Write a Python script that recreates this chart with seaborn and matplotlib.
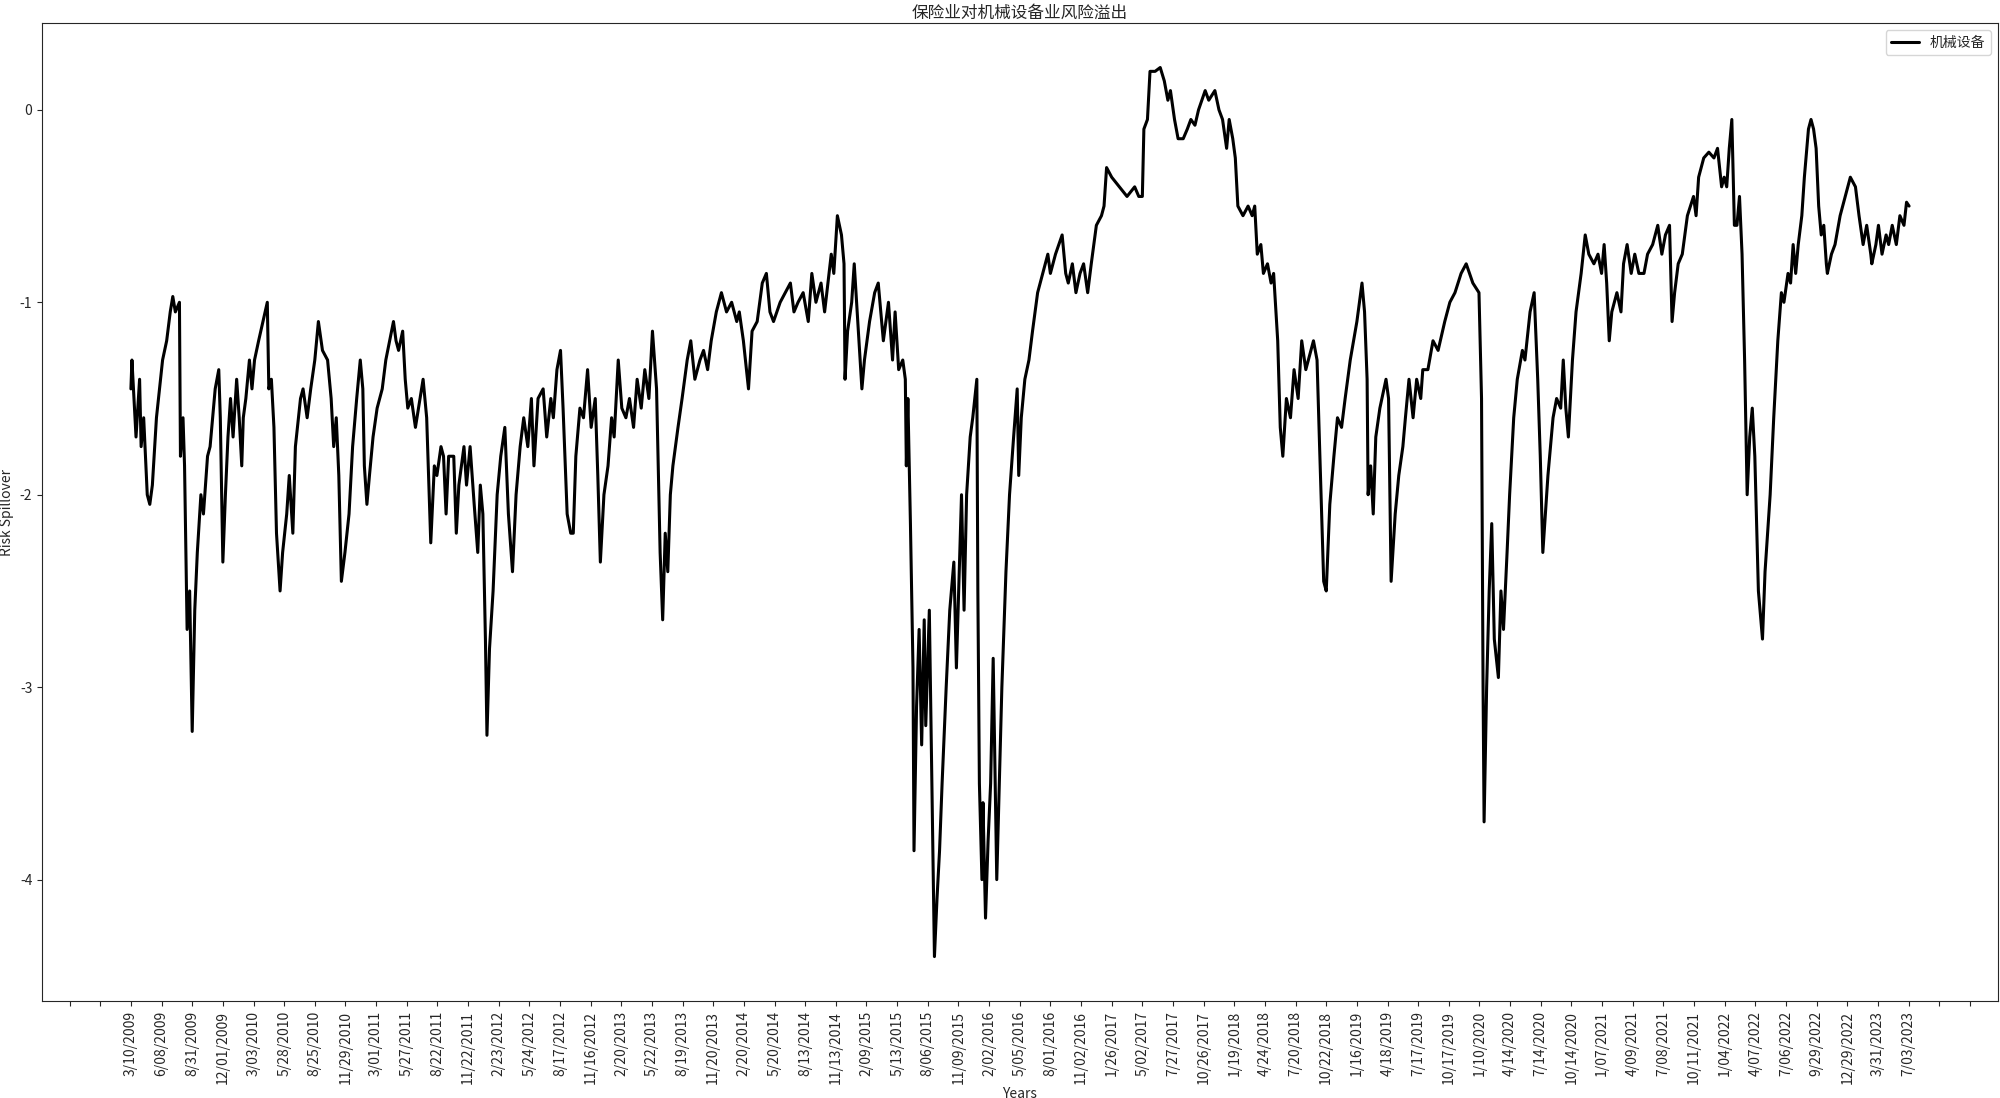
import matplotlib
matplotlib.use("Agg")
import matplotlib.pyplot as plt
import matplotlib.ticker as mticker
import seaborn as sns
import pandas as pd

# trading-day index (0 = 3/10/2009) of each turning point
trade_day = [
    0, 2, 10, 17, 20, 25, 32, 37, 42, 50, 62, 70, 77, 82, 87, 95, 97, 102, 105, 110,
    115, 120, 125, 130, 137, 142, 150, 155, 165, 172, 175, 180, 185, 190, 195, 200, 207, 212, 217, 220,
    225, 232, 237, 242, 250, 267, 270, 275, 280, 285, 292, 297, 305, 310, 317, 322, 332, 337, 345, 352,
    360, 367, 375, 385, 392, 397, 402, 407, 412, 419, 427, 434, 442, 449, 454, 457, 462, 467, 474, 482,
    492, 499, 514, 519, 524, 532, 537, 542, 549, 557, 572, 579, 587, 594, 599, 607, 612, 617, 622, 632,
    637, 642, 652, 657, 664, 672, 679, 684, 689, 694, 697, 702, 709, 717, 724, 732, 739, 747, 754, 762,
    769, 777, 784, 789, 797, 807, 814, 822, 827, 834, 841, 846, 854, 861, 866, 871, 879, 886, 894, 901,
    909, 914, 919, 926, 934, 941, 946, 954, 961, 969, 976, 984, 991, 999, 1006, 1014, 1021, 1029, 1036, 1041,
    1046, 1051, 1056, 1061, 1071, 1079, 1089, 1096, 1104, 1114, 1121, 1129, 1136, 1146, 1156, 1166, 1176, 1186, 1191, 1199,
    1209, 1216, 1226, 1236, 1244, 1251, 1258, 1271, 1281, 1291, 1298, 1306, 1316, 1326, 1333, 1341, 1351, 1358, 1371, 1376,
    1383, 1391, 1396, 1398, 1403, 1411, 1416, 1423, 1431, 1436, 1446, 1456, 1463, 1473, 1483, 1491, 1496, 1503, 1511, 1516,
    1518, 1521, 1526, 1531, 1533, 1538, 1543, 1548, 1553, 1556, 1563, 1568, 1573, 1578, 1583, 1588, 1596, 1603, 1611, 1616,
    1626, 1631, 1636, 1643, 1648, 1656, 1658, 1661, 1666, 1668, 1673, 1678, 1683, 1688, 1695, 1700, 1705, 1713, 1720, 1728,
    1735, 1738, 1743, 1750, 1758, 1765, 1775, 1785, 1795, 1800, 1810, 1823, 1830, 1835, 1843, 1850, 1858, 1865, 1873, 1880,
    1890, 1900, 1905, 1910, 1920, 1935, 1950, 1965, 1973, 1980, 1983, 1990, 1995, 2005, 2015, 2023, 2030, 2035, 2043, 2050,
    2060, 2068, 2075, 2083, 2090, 2103, 2110, 2122, 2130, 2137, 2145, 2150, 2157, 2162, 2167, 2177, 2187, 2195, 2200, 2205,
    2212, 2217, 2225, 2232, 2237, 2245, 2250, 2255, 2262, 2270, 2277, 2285, 2292, 2300, 2315, 2322, 2327, 2335, 2340, 2347,
    2355, 2362, 2370, 2377, 2387, 2400, 2410, 2415, 2420, 2422, 2427, 2432, 2437, 2445, 2457, 2462, 2467, 2475, 2482, 2490,
    2495, 2502, 2510, 2517, 2525, 2529, 2539, 2549, 2559, 2572, 2582, 2592, 2604, 2614, 2627, 2639, 2644, 2647, 2649, 2654,
    2659, 2664, 2669, 2677, 2682, 2687, 2694, 2699, 2707, 2714, 2724, 2729, 2739, 2747, 2754, 2759, 2764, 2769, 2774, 2784,
    2791, 2799, 2804, 2809, 2814, 2822, 2829, 2839, 2847, 2854, 2864, 2872, 2879, 2884, 2889, 2894, 2899, 2904, 2909, 2917,
    2922, 2929, 2937, 2944, 2952, 2962, 2969, 2979, 2989, 2997, 3004, 3012, 3017, 3022, 3029, 3037, 3047, 3059, 3064, 3069,
    3079, 3089, 3099, 3106, 3114, 3119, 3124, 3129, 3134, 3139, 3144, 3149, 3154, 3159, 3164, 3169, 3174, 3179, 3186, 3194,
    3199, 3209, 3216, 3224, 3231, 3236, 3244, 3249, 3254, 3259, 3264, 3271, 3276, 3284, 3289, 3294, 3299, 3304, 3309, 3314,
    3319, 3321, 3329, 3336, 3346, 3356, 3366, 3376, 3383, 3391, 3398, 3406, 3408, 3416, 3421, 3428, 3436, 3441, 3448, 3456,
    3463, 3471, 3476, 3481,
]

spillover = [
    -1.45, -1.30, -1.70, -1.40, -1.75, -1.60, -2.00, -2.05, -1.95, -1.60, -1.30, -1.20, -1.05, -0.97, -1.05, -1.00, -1.80, -1.60, -1.85, -2.70,
    -2.50, -3.23, -2.60, -2.30, -2.00, -2.10, -1.80, -1.75, -1.45, -1.35, -1.60, -2.35, -2.00, -1.70, -1.50, -1.70, -1.40, -1.60, -1.85, -1.60,
    -1.50, -1.30, -1.45, -1.30, -1.20, -1.00, -1.45, -1.40, -1.65, -2.20, -2.50, -2.30, -2.10, -1.90, -2.20, -1.75, -1.50, -1.45, -1.60, -1.45,
    -1.30, -1.10, -1.25, -1.30, -1.50, -1.75, -1.60, -1.90, -2.45, -2.30, -2.10, -1.75, -1.50, -1.30, -1.45, -1.85, -2.05, -1.90, -1.70, -1.55,
    -1.45, -1.30, -1.10, -1.20, -1.25, -1.15, -1.40, -1.55, -1.50, -1.65, -1.40, -1.60, -2.25, -1.85, -1.90, -1.75, -1.80, -2.10, -1.80, -1.80,
    -2.20, -1.95, -1.75, -1.95, -1.75, -2.05, -2.30, -1.95, -2.10, -2.75, -3.25, -2.80, -2.50, -2.00, -1.80, -1.65, -2.10, -2.40, -2.00, -1.75,
    -1.60, -1.75, -1.50, -1.85, -1.50, -1.45, -1.70, -1.50, -1.60, -1.35, -1.25, -1.55, -2.10, -2.20, -2.20, -1.80, -1.55, -1.60, -1.35, -1.65,
    -1.50, -1.90, -2.35, -2.00, -1.85, -1.60, -1.70, -1.30, -1.55, -1.60, -1.50, -1.65, -1.40, -1.55, -1.35, -1.50, -1.15, -1.45, -2.30, -2.65,
    -2.20, -2.40, -2.00, -1.85, -1.65, -1.50, -1.30, -1.20, -1.40, -1.30, -1.25, -1.35, -1.20, -1.05, -0.95, -1.05, -1.00, -1.10, -1.05, -1.20,
    -1.45, -1.15, -1.10, -0.90, -0.85, -1.05, -1.10, -1.00, -0.95, -0.90, -1.05, -1.00, -0.95, -1.10, -0.85, -1.00, -0.90, -1.05, -0.75, -0.85,
    -0.55, -0.65, -0.80, -1.40, -1.15, -1.00, -0.80, -1.10, -1.45, -1.30, -1.10, -0.95, -0.90, -1.20, -1.00, -1.30, -1.05, -1.35, -1.30, -1.40,
    -1.85, -1.50, -2.15, -2.90, -3.85, -3.10, -2.70, -3.30, -2.65, -3.20, -2.60, -3.50, -4.40, -4.10, -3.85, -3.50, -3.00, -2.60, -2.35, -2.90,
    -2.00, -2.60, -2.00, -1.70, -1.60, -1.40, -2.50, -3.50, -4.00, -3.60, -4.20, -3.80, -3.50, -2.85, -4.00, -3.50, -3.00, -2.40, -2.00, -1.70,
    -1.45, -1.90, -1.60, -1.40, -1.30, -1.15, -0.95, -0.85, -0.75, -0.85, -0.75, -0.65, -0.85, -0.90, -0.80, -0.95, -0.85, -0.80, -0.95, -0.80,
    -0.60, -0.55, -0.50, -0.30, -0.35, -0.40, -0.45, -0.40, -0.45, -0.45, -0.10, -0.05, 0.20, 0.20, 0.22, 0.15, 0.05, 0.10, -0.05, -0.15,
    -0.15, -0.10, -0.05, -0.08, 0.00, 0.10, 0.05, 0.10, 0.00, -0.05, -0.20, -0.05, -0.15, -0.25, -0.50, -0.55, -0.50, -0.55, -0.50, -0.75,
    -0.70, -0.85, -0.80, -0.90, -0.85, -1.20, -1.65, -1.80, -1.50, -1.60, -1.35, -1.50, -1.20, -1.35, -1.20, -1.30, -1.75, -2.45, -2.50, -2.05,
    -1.80, -1.60, -1.65, -1.50, -1.30, -1.10, -0.90, -1.05, -1.40, -2.00, -1.85, -2.10, -1.70, -1.55, -1.40, -1.50, -2.45, -2.10, -1.90, -1.75,
    -1.60, -1.40, -1.60, -1.40, -1.50, -1.35, -1.35, -1.20, -1.25, -1.10, -1.00, -0.95, -0.85, -0.80, -0.90, -0.95, -1.50, -3.00, -3.70, -3.00,
    -2.50, -2.15, -2.75, -2.95, -2.50, -2.70, -2.30, -2.00, -1.60, -1.40, -1.25, -1.30, -1.05, -0.95, -1.40, -1.80, -2.30, -2.10, -1.90, -1.60,
    -1.50, -1.55, -1.30, -1.55, -1.70, -1.30, -1.05, -0.85, -0.65, -0.75, -0.80, -0.75, -0.85, -0.70, -0.90, -1.20, -1.05, -1.00, -0.95, -1.05,
    -0.80, -0.70, -0.85, -0.75, -0.85, -0.85, -0.75, -0.70, -0.60, -0.75, -0.65, -0.60, -1.10, -0.95, -0.80, -0.75, -0.55, -0.45, -0.55, -0.35,
    -0.25, -0.22, -0.25, -0.20, -0.40, -0.35, -0.40, -0.20, -0.05, -0.60, -0.60, -0.45, -0.75, -1.30, -2.00, -1.70, -1.55, -1.80, -2.50, -2.75,
    -2.40, -2.00, -1.60, -1.20, -0.95, -1.00, -0.85, -0.90, -0.70, -0.85, -0.70, -0.55, -0.35, -0.10, -0.05, -0.10, -0.20, -0.50, -0.65, -0.60,
    -0.80, -0.85, -0.75, -0.70, -0.55, -0.45, -0.35, -0.40, -0.55, -0.70, -0.60, -0.75, -0.80, -0.70, -0.60, -0.75, -0.65, -0.70, -0.60, -0.70,
    -0.55, -0.60, -0.48, -0.50,
]

# label shown every 60 trading days
tick_labels = [
    "3/10/2009", "6/08/2009", "8/31/2009", "12/01/2009", "3/03/2010", "5/28/2010", "8/25/2010", "11/29/2010",
    "3/01/2011", "5/27/2011", "8/22/2011", "11/22/2011", "2/23/2012", "5/24/2012", "8/17/2012", "11/16/2012",
    "2/20/2013", "5/22/2013", "8/19/2013", "11/20/2013", "2/20/2014", "5/20/2014", "8/13/2014", "11/13/2014",
    "2/09/2015", "5/13/2015", "8/06/2015", "11/09/2015", "2/02/2016", "5/05/2016", "8/01/2016", "11/02/2016",
    "1/26/2017", "5/02/2017", "7/27/2017", "10/26/2017", "1/19/2018", "4/24/2018", "7/20/2018", "10/22/2018",
    "1/16/2019", "4/18/2019", "7/17/2019", "10/17/2019", "1/10/2020", "4/14/2020", "7/14/2020", "10/14/2020",
    "1/07/2021", "4/09/2021", "7/08/2021", "10/11/2021", "1/04/2022", "4/07/2022", "7/06/2022", "9/29/2022",
    "12/29/2022", "3/31/2023", "7/03/2023",
]
TICK_STEP = 60

df = pd.DataFrame({"day": trade_day, "spill": spillover})

sns.set_style("ticks")
plt.rcParams["font.family"] = ["Noto Sans CJK SC", "DejaVu Sans"]
plt.rcParams["axes.unicode_minus"] = False

fig = plt.figure(figsize=(20, 10.98), dpi=100)
ax = fig.add_axes([0.021, 0.0883, 0.978, 0.8907])

sns.lineplot(data=df, x="day", y="spill", color="black", linewidth=2.2,
             label="机械设备", ax=ax)


def date_label(val, pos):
    k = int(round(val / TICK_STEP))
    if 0 <= k < len(tick_labels):
        return tick_labels[k]
    return ""


ax.xaxis.set_major_locator(mticker.MultipleLocator(TICK_STEP))
ax.xaxis.set_major_formatter(mticker.FuncFormatter(date_label))
ax.tick_params(axis="x", labelrotation=90, labelsize=10)
ax.tick_params(axis="y", labelsize=10)
ax.yaxis.set_major_locator(mticker.MultipleLocator(1))
ax.margins(x=0.05, y=0.05)

ax.set_title("保险业对机械设备业风险溢出", fontsize=12, pad=4)
ax.set_xlabel("Years", fontsize=10, labelpad=2)
ax.set_ylabel("Risk Spillover", fontsize=10, labelpad=4)
ax.legend(loc="upper right", fontsize=10)

fig.savefig("out.png", dpi=100)
plt.close(fig)
